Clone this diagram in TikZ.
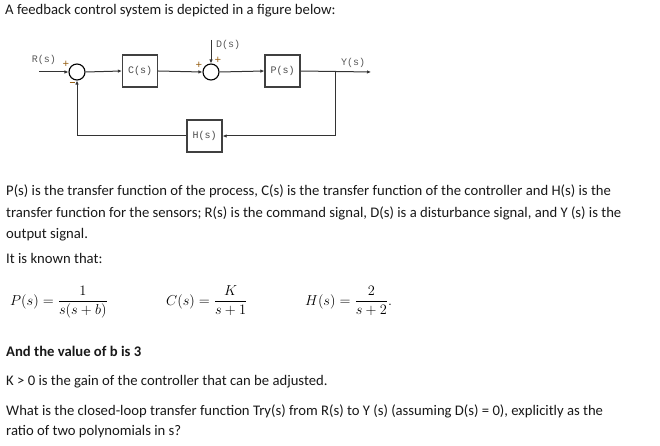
\documentclass[tikz,border=0pt]{standalone}
\usepackage[no-math]{fontspec}
\setmainfont{Carlito}
\newfontfamily\lblfont{Liberation Mono}
\usetikzlibrary{arrows.meta}
\definecolor{sgncol}{RGB}{150,95,20}
\begin{document}
\begin{tikzpicture}[x=1pt,y=-1pt,
  blk/.style={draw=black!75, line width=1.3pt, minimum width=35pt, minimum height=32pt, inner sep=0pt,
    font=\lblfont\fontsize{10}{10}\selectfont, text=black!70},
  sumc/.style={circle, draw=black, line width=1.1pt, minimum size=16pt, inner sep=0pt},
  sig/.style={draw=black!80, line width=1pt, -{Latex[length=4pt,width=3.5pt]}},
  lbl/.style={font=\lblfont\fontsize{10}{10}\selectfont, text=black!65, inner sep=0pt},
  sgn/.style={font=\lblfont\fontsize{11}{11}\selectfont, text=sgncol, inner sep=0pt},
  txt/.style={anchor=base west, inner sep=0pt, font=\fontsize{14.67}{18}\selectfont, text=black!90},
  eq/.style={anchor=base west, inner sep=0pt, font=\fontsize{15}{17}\selectfont},
]
\path[use as bounding box, fill=white] (0,0) rectangle (660,446);

% diagram
\node[sumc] (s1) at (77,72) {};
\node[blk] (c) at (140,71) {C(s)};
\node[sumc] (s2) at (211,72) {};
\node[blk] (p) at (282.5,71) {P(s)};
\node[blk] (h) at (204.5,136) {H(s)};
\coordinate (rin) at (39,72);
\coordinate (yout) at (371,72);
\coordinate (br) at (335,72);
\coordinate (dtop) at (211,40);
\coordinate (fbr) at (335,136);
\coordinate (fbl) at (77,136);

\draw[sig] (rin) -- (s1.west);
\draw[sig] (s1.east) -- (c.west);
\draw[sig] (c.east) -- (s2.west);
\draw[sig] (s2.east) -- (p.west);
\draw[sig] (p.east) -- (yout);
\draw[sig] (dtop) -- (s2.north);
\draw[sig] (br) -- (fbr) -- (h.east);
\draw[sig] (h.west) -- (fbl) -- (s1.south);

\node[lbl] (rl) at (44,60) {R(s)};
\node[lbl] (dl) at (228,45) {D(s)};
\node[lbl] (yl) at (353,63) {Y(s)};
\node[sgn] (p1) at (66,64) {+};
\node[sgn] (m1) at (72,84) {\rule[2.8pt]{5pt}{0.9pt}};
\node[sgn] (p2) at (199,65) {+};
\node[sgn] (p3) at (218,60) {+};

% text
\node[txt] (t0) at (5,15) {A feedback control system is depicted in a figure below:};
\node[txt] (t1) at (6,196) {P(s) is the transfer function of the process, C(s) is the transfer function of the controller and H(s) is the};
\node[txt] (t2) at (6,217) {transfer function for the sensors; R(s) is the command signal, D(s) is a disturbance signal, and Y (s) is the};
\node[txt] (t3) at (6,238) {output signal.};
\node[txt] (t4) at (6,263) {It is known that:};

\node[eq] (eqp) at (10,305) {$\displaystyle P(s)=\frac{1}{s(s+b)}$};
\node[eq] (eqc) at (166,305) {$\displaystyle C(s)=\frac{K}{s+1}$};
\node[eq] (eqh) at (305,305) {$\displaystyle H(s)=\frac{2}{s+2}.$};

\node[txt, font=\fontsize{14.67}{18}\selectfont\bfseries] (t5) at (6,356) {And the value of b is 3};
\node[txt] (t6) at (6,385) {K > 0 is the gain of the controller that can be adjusted.};
\node[txt] (t7) at (6,415) {What is the closed-loop transfer function Try(s) from R(s) to Y (s) (assuming D(s) = 0), explicitly as the};
\node[txt] (t8) at (6,435) {ratio of two polynomials in s?};
\end{tikzpicture}
\end{document}
